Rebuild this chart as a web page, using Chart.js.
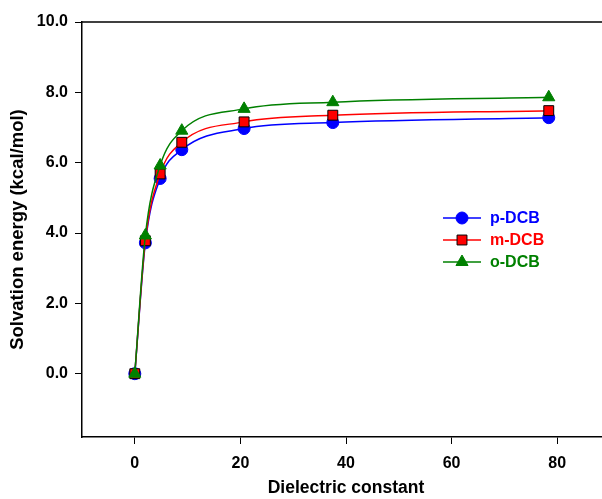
<!DOCTYPE html>
<html>
<head>
<meta charset="utf-8">
<script src="https://cdn.jsdelivr.net/npm/chart.js@4.4.0/dist/chart.umd.min.js"></script>
<style>
  html, body { margin: 0; padding: 0; overflow: hidden; background: #fff; }
  canvas { display: block; }
</style>
</head>
<body>
<canvas id="solvChart" width="620" height="499"></canvas>
<script>
const dielectric = [0, 2.0, 4.8, 8.9, 20.7, 37.5, 78.4];
const pDCB = [0, 3.72, 5.55, 6.37, 6.97, 7.14, 7.28];
const mDCB = [0, 3.78, 5.68, 6.58, 7.16, 7.35, 7.48];
const oDCB = [0, 3.93, 5.92, 6.91, 7.53, 7.72, 7.86];
const xTickValues = [0, 20, 40, 60, 80];
const yTickValues = [0, 2, 4, 6, 8, 10];

const FONT = "Arial, 'Liberation Sans', sans-serif";

function pts(ys) {
  return dielectric.map((x, i) => ({ x: x, y: ys[i] }));
}

const series = [
  { label: "p-DCB", data: pDCB, color: "#0000ff", style: "circle", radius: 6, border: "#0000ff", order: 3 },
  { label: "m-DCB", data: mDCB, color: "#ff0000", style: "rect", radius: 7, border: "#000000", order: 2 },
  { label: "o-DCB", data: oDCB, color: "#008000", style: "triangle", radius: 7, border: "#008000", order: 1 },
];

// legend with line + marker, and the top frame line
const extras = {
  id: "extras",
  afterDraw(chart) {
    const ctx = chart.ctx;
    const area = chart.chartArea;
    ctx.save();
    ctx.strokeStyle = "#000";
    ctx.lineWidth = 1.5;
    ctx.beginPath();
    ctx.moveTo(area.left, area.top);
    ctx.lineTo(area.right, area.top);
    ctx.stroke();

    series.forEach((s, i) => {
      const y = 218 + i * 22;
      ctx.strokeStyle = s.color;
      ctx.lineWidth = 1.5;
      ctx.beginPath();
      ctx.moveTo(443, y);
      ctx.lineTo(481, y);
      ctx.stroke();
      ctx.fillStyle = s.color;
      ctx.strokeStyle = s.border;
      ctx.lineWidth = 1;
      Chart.helpers.drawPoint(ctx, { pointStyle: s.style, radius: s.radius, borderWidth: 1 }, 462, y);
      ctx.fillStyle = s.color;
      ctx.font = "bold 16px " + FONT;
      ctx.textBaseline = "middle";
      ctx.textAlign = "left";
      ctx.fillText(s.label, 490, y + 1);
    });
    ctx.restore();
  },
};

new Chart(document.getElementById("solvChart"), {
  type: "line",
  data: {
    datasets: series.map((s) => ({
      label: s.label,
      data: pts(s.data),
      borderColor: s.color,
      backgroundColor: s.color,
      borderWidth: 1.5,
      pointStyle: s.style,
      pointRadius: s.radius,
      pointBackgroundColor: s.color,
      pointBorderColor: s.border,
      pointBorderWidth: 1,
      cubicInterpolationMode: "monotone",
      order: s.order,
    })),
  },
  options: {
    responsive: false,
    animation: false,
    layout: { padding: { left: 0, right: 10, top: 22, bottom: 0 } },
    plugins: { legend: { display: false }, tooltip: { enabled: false } },
    scales: {
      x: {
        type: "linear",
        min: -10,
        max: 90,
        afterBuildTicks: (scale) => { scale.ticks = xTickValues.map((v) => ({ value: v })); },
        afterFit: (scale) => { scale.height = 62; },
        grid: { drawOnChartArea: false, drawTicks: true, tickLength: 7, color: "#000", tickWidth: 1 },
        border: { display: true, color: "#000", width: 1.5 },
        ticks: { color: "#000", font: { family: FONT, size: 16, weight: "bold" }, padding: 10, maxRotation: 0 },
        title: { display: true, text: "Dielectric constant", color: "#000", font: { family: FONT, size: 17.5, weight: "bold" }, padding: { top: 0, bottom: 0 } },
      },
      y: {
        type: "linear",
        min: -1.8,
        max: 10,
        afterBuildTicks: (scale) => { scale.ticks = yTickValues.map((v) => ({ value: v })); },
        afterFit: (scale) => { scale.width = 82; },
        grid: { drawOnChartArea: false, drawTicks: true, tickLength: 7, color: "#000", tickWidth: 1 },
        border: { display: true, color: "#000", width: 1.5 },
        ticks: { color: "#000", font: { family: FONT, size: 16, weight: "bold" }, padding: 7, callback: (v) => v.toFixed(1) },
        title: { display: true, text: "Solvation energy (kcal/mol)", color: "#000", font: { family: FONT, size: 18.5, weight: "bold" }, padding: { top: 7, bottom: 0 } },
      },
    },
  },
  plugins: [extras],
});
</script>
</body>
</html>
